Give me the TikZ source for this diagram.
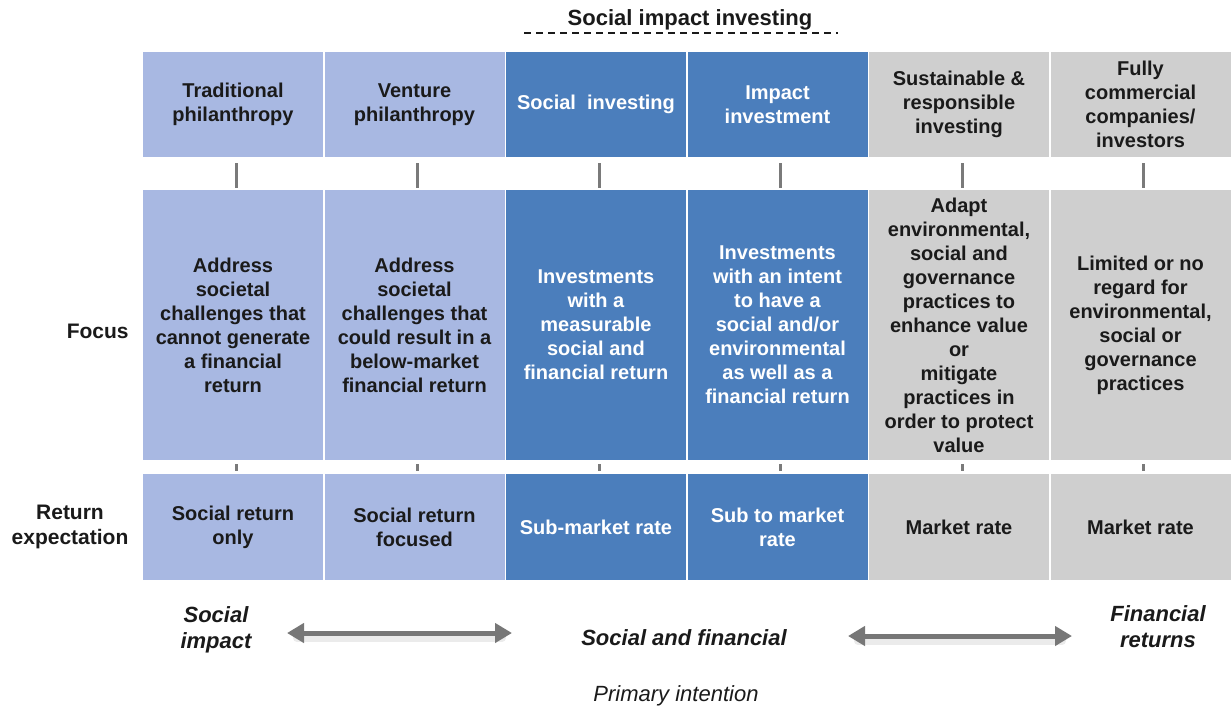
\documentclass[tikz,border=0pt]{standalone}
\usepackage{fontspec}
\setmainfont{Liberation Sans}
\usetikzlibrary{arrows.meta}
\definecolor{lb}{HTML}{A8B8E2}
\definecolor{db}{HTML}{4B7EBC}
\definecolor{gr}{HTML}{CFCFCF}
\definecolor{stubc}{HTML}{7A7A7A}
\definecolor{txt}{HTML}{1A1A1A}
\definecolor{arrc}{HTML}{777777}
\begin{document}
\begin{tikzpicture}[x=0.5pt,y=-0.5pt,
  cell/.style={minimum width=90pt, inner sep=0pt, align=center, font=\bfseries\fontsize{10}{12}\selectfont, text=txt},
  hdr/.style={cell, minimum height=52.5pt},
  foc/.style={cell, minimum height=135pt},
  ret/.style={cell, minimum height=53pt},
  light/.style={fill=lb},
  dark/.style={fill=db, text=white},
  grey/.style={fill=gr},
  rowlabel/.style={font=\bfseries\fontsize{10.5}{12.5}\selectfont, text=txt, align=center, inner sep=0pt},
  endlabel/.style={font=\bfseries\itshape\fontsize{11}{13}\selectfont, text=txt, align=center, inner sep=0pt},
  stub/.style={draw=stubc, line width=1.5pt},
  bigarrow/.style={draw=arrc, line width=2.5pt, {Triangle[length=8.5pt,width=9.5pt]}-{Triangle[length=8.5pt,width=9.5pt]}},
  arrowshadow/.style={draw=black, opacity=0.08, line width=4pt, line cap=round}
]
\useasboundingbox (0,0) rectangle (1232,708);

% title
\node[font=\bfseries\fontsize{11}{13}\selectfont, text=txt, inner sep=0pt] (title) at (690,20) {Social impact investing};
\coordinate (dl) at (524,33);
\coordinate (dr) at (838,33);
\draw[txt, line width=0.8pt, dash pattern=on 3.5pt off 2.5pt] (dl) -- (dr);

% header row
\node[hdr, light] (h1) at (233,104.5) {Traditional\\philanthropy};
\node[hdr, light] (h2) at (414.5,104.5) {Venture\\philanthropy};
\node[hdr, dark] (h3) at (596,104.5) {Social\ \ investing};
\node[hdr, dark] (h4) at (777.5,104.5) {Impact\\investment};
\node[hdr, grey] (h5) at (959,104.5) {Sustainable \&\\responsible\\investing};
\node[hdr, grey] (h6) at (1140.5,104.5) {Fully\\commercial\\companies/\\investors};

% focus row
\node[foc, light] (f1) at (233,325) {Address\\societal\\challenges that\\cannot generate\\a financial\\return};
\node[foc, light] (f2) at (414.5,325) {Address\\societal\\challenges that\\could result in a\\below-market\\financial return};
\node[foc, dark] (f3) at (596,325) {Investments\\with a\\measurable\\social and\\financial return};
\node[foc, dark] (f4) at (777.5,325) {Investments\\with an intent\\to have a\\social and/or\\environmental\\as well as a\\financial return};
\node[foc, grey] (f5) at (959,325) {Adapt\\environmental,\\social and\\governance\\practices to\\enhance value\\or\\mitigate\\practices in\\order to protect\\value};
\node[foc, grey] (f6) at (1140.5,325) {Limited or no\\regard for\\environmental,\\social or\\governance\\practices};

% return row
\node[ret, light] (r1) at (233,527) {Social return\\only};
\node[ret, light] (r2) at (414.5,527) {Social return\\focused};
\node[ret, dark] (r3) at (596,527) {Sub-market rate};
\node[ret, dark] (r4) at (777.5,527) {Sub to market\\rate};
\node[ret, grey] (r5) at (959,527) {Market rate};
\node[ret, grey] (r6) at (1140.5,527) {Market rate};

% stubs
\foreach \i in {1,...,6}{
  \draw[stub, shorten <=3pt, shorten >=1pt] ([xshift=1.5pt]h\i.south) -- ([xshift=1.5pt]f\i.north);
  \draw[stub, shorten <=2pt, shorten >=1.5pt] ([xshift=1.5pt]f\i.south) -- ([xshift=1.5pt]r\i.north);
}

% row labels
\node[rowlabel, anchor=east] (lfocus) at (129,331) {Focus};
\node[rowlabel] (lret) at (70,527) {Return\\expectation};

% bottom
\node[endlabel] (si) at (216,630) {Social\\impact};
\node[endlabel] (sf) at (684,638) {Social and financial};
\node[endlabel] (fr) at (1158,627) {Financial\\returns};
\node[font=\itshape\fontsize{11}{13}\selectfont, text=txt, inner sep=0pt] (pi) at (676,696) {Primary intention};

\coordinate (a1l) at (287,633);
\coordinate (a1r) at (512,633);
\coordinate (a2l) at (848,636);
\coordinate (a2r) at (1072,636);
\draw[arrowshadow] ([shift={(10,5)}]a1l) -- ([shift={(-10,5)}]a1r);
\draw[arrowshadow] ([shift={(10,5)}]a2l) -- ([shift={(-10,5)}]a2r);
\draw[bigarrow] (a1l) -- (a1r);
\draw[bigarrow] (a2l) -- (a2r);
\end{tikzpicture}
\end{document}
